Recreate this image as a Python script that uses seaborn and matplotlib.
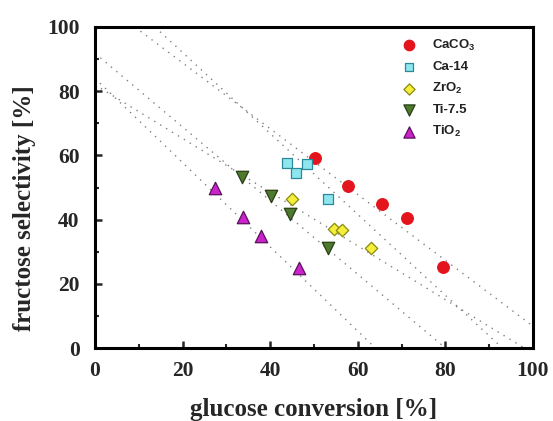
import matplotlib
matplotlib.use("Agg")
import matplotlib.pyplot as plt
import seaborn as sns
import pandas as pd
from matplotlib.ticker import MultipleLocator

# ---- data ----
series_names = ["CaCO$_3$", "Ca-14", "ZrO$_2$", "Ti-7.5", "TiO$_2$"]

caco3_x = [50.2, 57.8, 65.6, 71.3, 79.5]
caco3_y = [59.1, 50.6, 45.0, 40.4, 25.2]

ca14_x = [43.8, 46.0, 48.5, 53.2]
ca14_y = [57.7, 54.6, 57.2, 46.3]

zro2_x = [45.0, 54.6, 56.3, 63.0]
zro2_y = [46.4, 37.1, 36.7, 31.1]

ti75_x = [33.6, 40.1, 44.5, 53.1]
ti75_y = [53.4, 47.4, 41.7, 31.2]

tio2_x = [27.4, 33.9, 37.9, 46.6]
tio2_y = [49.7, 40.7, 34.9, 24.8]

# dotted guide lines (start and end points in data units)
guide_x0 = [9.1, 13.7, 0.0, 0.0, 0.0]
guide_y0 = [100.0, 100.0, 91.8, 82.0, 84.0]
guide_x1 = [100.0, 93.0, 80.0, 98.0, 64.0]
guide_y1 = [6.8, 0.0, 0.0, 0.0, 0.0]

x_ticks = [0, 20, 40, 60, 80, 100]
y_ticks = [0, 20, 40, 60, 80, 100]

# ---- styling ----
sns.set_theme(style="ticks")
plt.rcParams["font.family"] = ["Liberation Serif", "DejaVu Serif"]
plt.rcParams["mathtext.fontset"] = "custom"
plt.rcParams["mathtext.rm"] = "Liberation Sans:bold"
plt.rcParams["mathtext.it"] = "Liberation Sans:bold"
plt.rcParams["mathtext.bf"] = "Liberation Sans:bold"

fig = plt.figure(figsize=(5.53, 4.21), dpi=100)
ax = fig.add_axes([95 / 553, 1 - 348 / 421, (533 - 95) / 553, (348 - 27) / 421])

for x0, y0, x1, y1 in zip(guide_x0, guide_y0, guide_x1, guide_y1):
    gdf = pd.DataFrame({"x": [x0, x1], "y": [y0, y1]})
    sns.lineplot(data=gdf, x="x", y="y", ax=ax, color="#808080", lw=1.0,
                 linestyle=(0, (1, 4)), legend=False, zorder=1)

styles = [
    (caco3_x, caco3_y, "o", "#e3141b", "#e3141b", 70),
    (ca14_x, ca14_y, "s", "#8ee6ee", "#2a8a9a", 50),
    (zro2_x, zro2_y, "D", "#f5ee3a", "#8a8a10", 40),
    (ti75_x, ti75_y, "v", "#4d7a2c", "#2a3e18", 80),
    (tio2_x, tio2_y, "^", "#cc22cc", "#5a105a", 80),
]

for name, (xs, ys, mk, fc, ec, s) in zip(series_names, styles):
    df = pd.DataFrame({"x": xs, "y": ys})
    sns.scatterplot(data=df, x="x", y="y", ax=ax, marker=mk, color=fc,
                    edgecolor=ec, linewidth=0.9, s=s, label=name, zorder=3)

ax.set_xlim(0, 100)
ax.set_ylim(0, 100)
ax.set_xticks(x_ticks)
ax.set_yticks(y_ticks)
ax.xaxis.set_minor_locator(MultipleLocator(10))
ax.yaxis.set_minor_locator(MultipleLocator(10))
ax.tick_params(which="major", direction="in", length=5, width=1.8,
               labelsize=15.5, top=False, right=False)
ax.tick_params(axis="y", which="major", pad=11)
ax.tick_params(axis="x", which="major", pad=9)
ax.tick_params(which="minor", direction="in", length=3, width=1.5,
               top=False, right=False)
for lab in ax.get_xticklabels() + ax.get_yticklabels():
    lab.set_fontweight("bold")
for sp in ax.spines.values():
    sp.set_linewidth(2.2)
    sp.set_color("black")

ax.set_xlabel("glucose conversion [%]", fontsize=18, fontweight="bold")
ax.set_ylabel("fructose selectivity [%]", fontsize=18, fontweight="bold")
ax.xaxis.set_label_coords(0.5, -0.155)
ax.yaxis.set_label_coords(-0.135, 0.436)

leg = ax.legend(loc="upper left", bbox_to_anchor=(0.665, 0.995), frameon=False,
                prop={"family": "Liberation Sans", "weight": "bold", "size": 9.5},
                handletextpad=0.8, labelspacing=0.6, markerscale=0.9,
                borderaxespad=0.3)
for t in leg.get_texts():
    t.set_color("#222222")

fig.savefig("out.png", dpi=100)
